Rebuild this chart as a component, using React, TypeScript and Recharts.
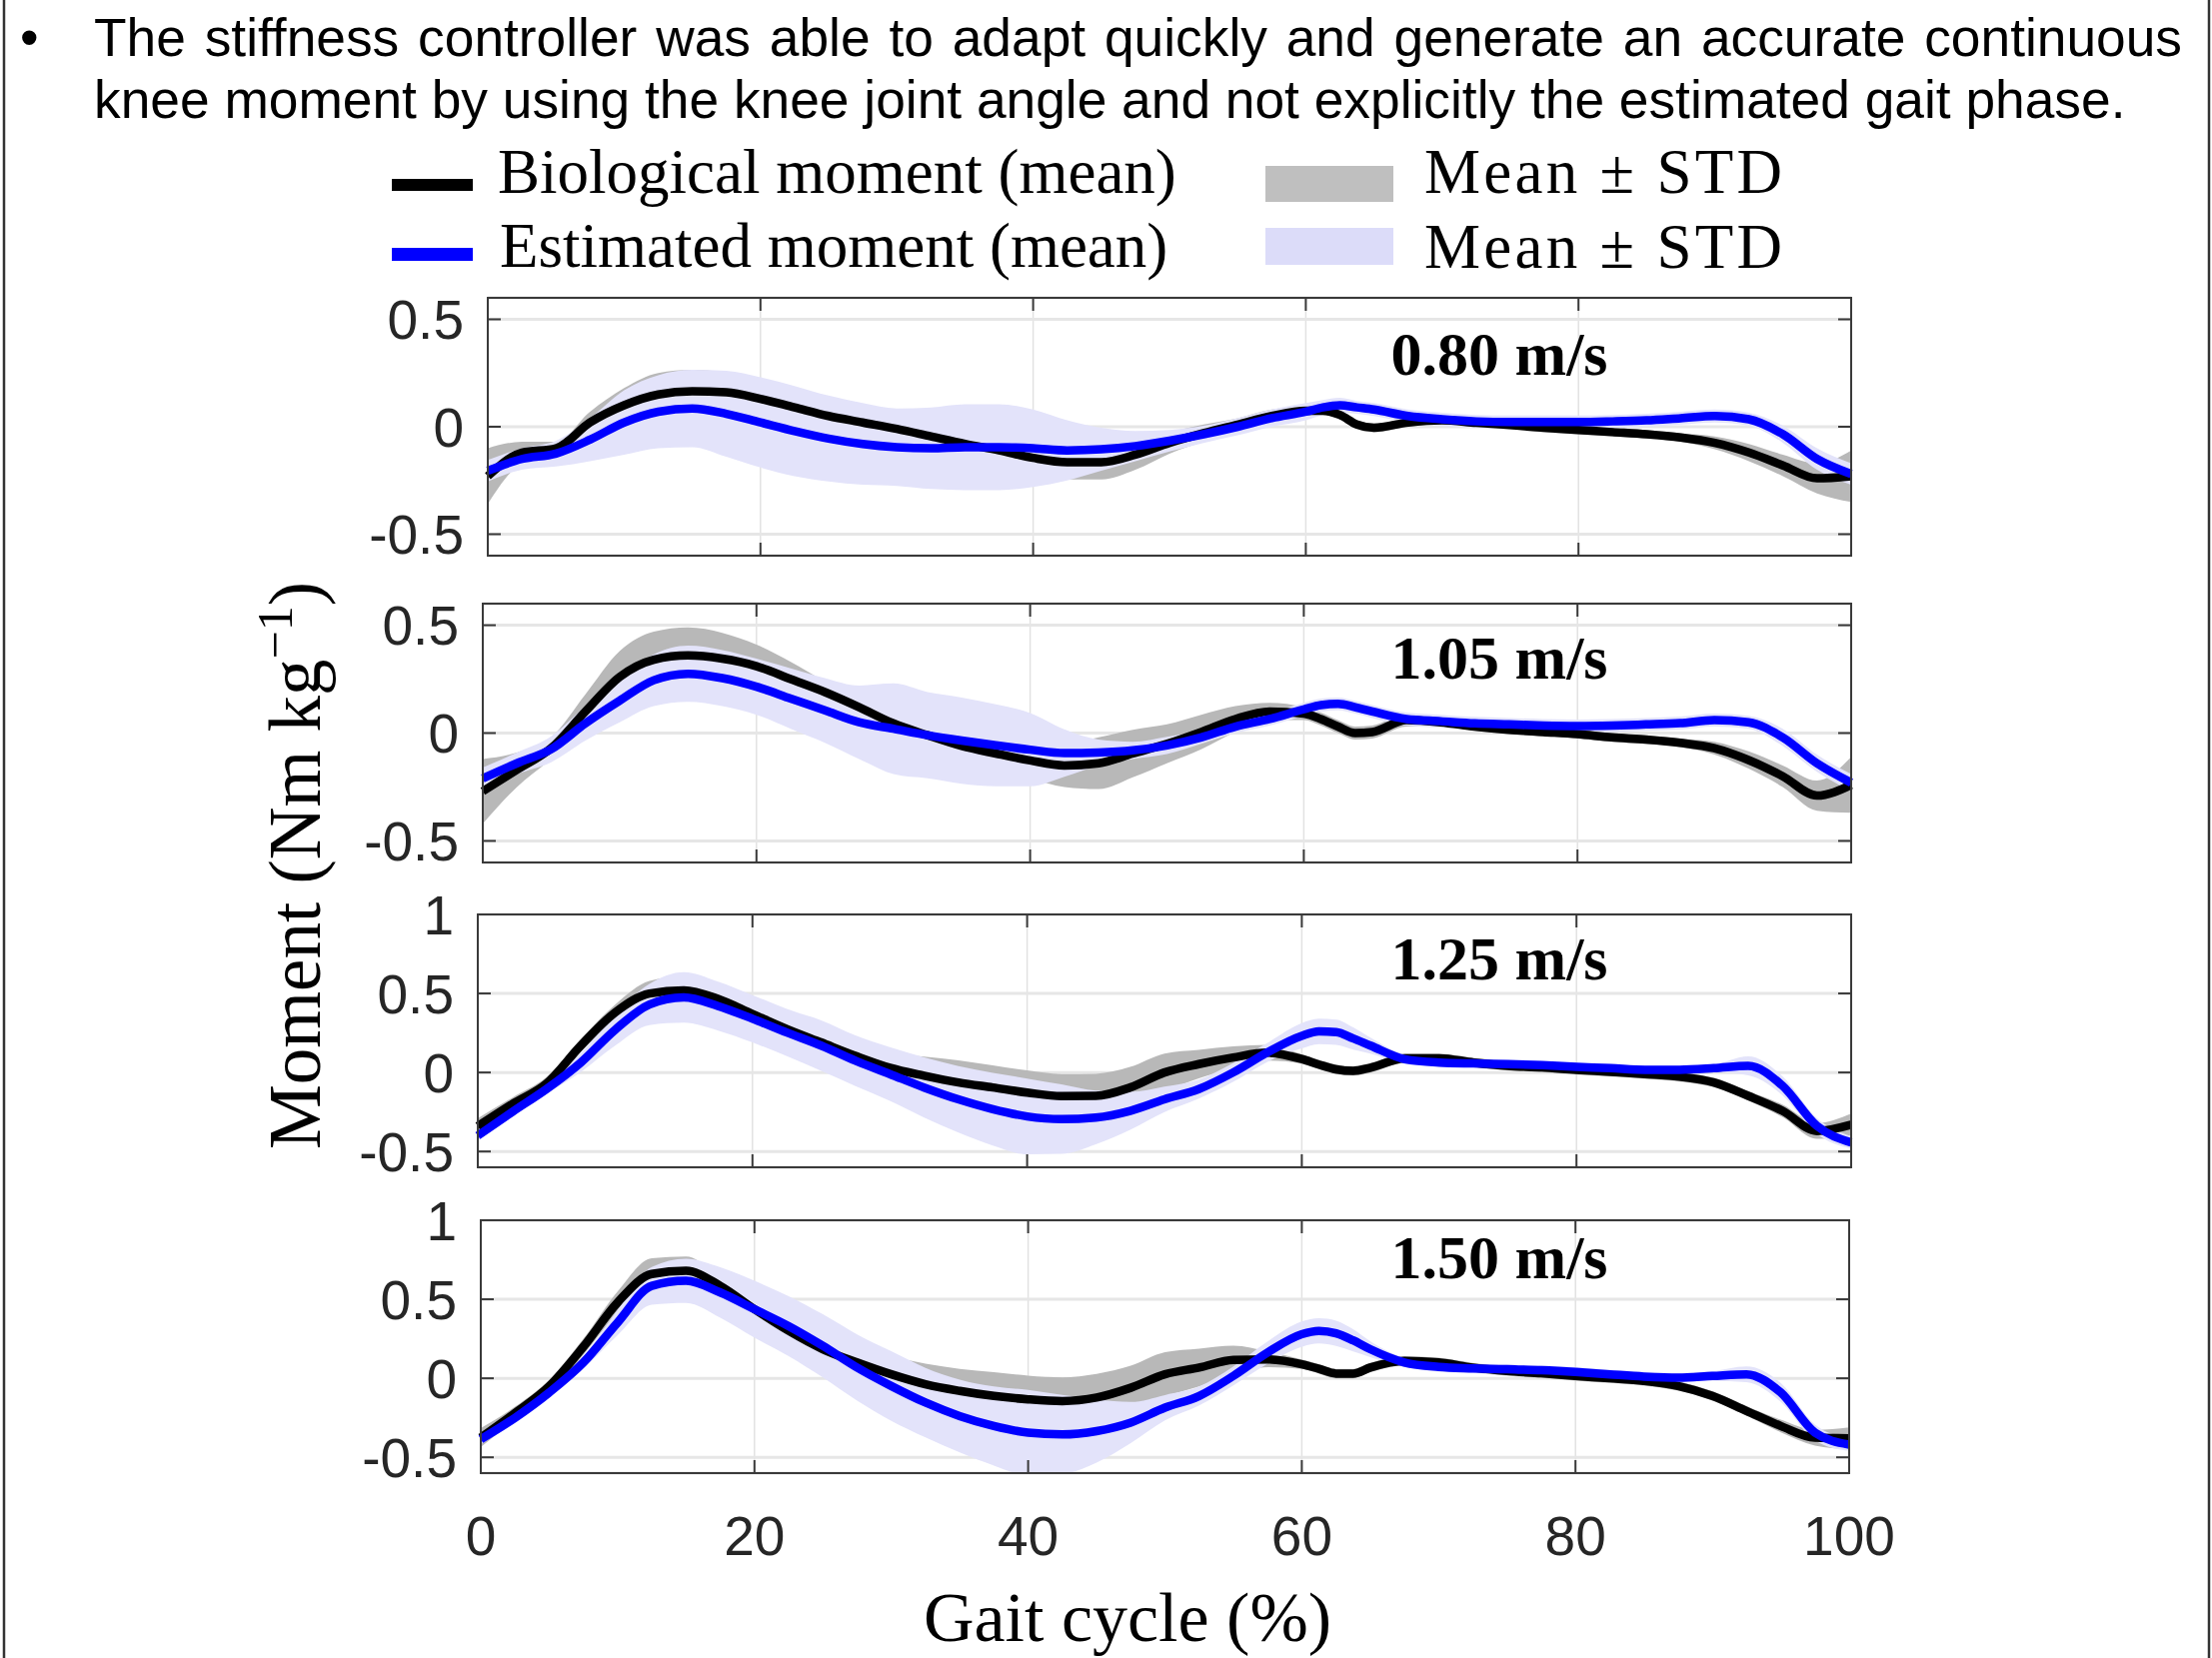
import React from "react";
import { ComposedChart, Area, Line, XAxis, YAxis, CartesianGrid } from "recharts";

// gait cycle samples (%)
const gaitPct = [
  0, 2.5, 5, 7.5, 10, 12.5, 15, 17.5, 20, 22.5,
  25, 27.5, 30, 32.5, 35, 37.5, 40, 42.5, 45, 47.5,
  50, 52.5, 55, 57.5, 60, 61.25, 62.5, 63.75, 65, 67.5,
  70, 72.5, 75, 77.5, 80, 82.5, 85, 87.5, 90, 92.5,
  95, 97.5, 100,
];

// 0.80 m/s
const bio080 = [
  -0.23, -0.12, -0.1, 0.02, 0.1, 0.15, 0.165, 0.16, 0.13, 0.09,
  0.05, 0.02, -0.01, -0.045, -0.08, -0.11, -0.145, -0.165, -0.165, -0.13,
  -0.075, -0.03, 0.01, 0.05, 0.075, 0.075, 0.055, 0.01, -0.005, 0.02,
  0.03, 0.018, 0.008, -0.005, -0.015, -0.025, -0.035, -0.05, -0.075, -0.12,
  -0.18, -0.24, -0.23,
];
const bioSd080 = [
  0.13, 0.05, 0.03, 0.05, 0.08, 0.1, 0.1, 0.09, 0.08, 0.07,
  0.06, 0.05, 0.04, 0.04, 0.05, 0.06, 0.07, 0.08, 0.08, 0.07,
  0.05, 0.04, 0.03, 0.03, 0.02, 0.02, 0.02, 0.02, 0.02, 0.02,
  0.02, 0.02, 0.02, 0.02, 0.02, 0.02, 0.02, 0.02, 0.03, 0.04,
  0.05, 0.07, 0.12,
];
const est080 = [
  -0.205, -0.15, -0.125, -0.06, 0.02, 0.07, 0.085, 0.06, 0.02, -0.02,
  -0.055, -0.08, -0.095, -0.1, -0.095, -0.095, -0.1, -0.11, -0.105, -0.09,
  -0.065, -0.035, 0.0, 0.04, 0.07, 0.09, 0.1, 0.09, 0.08, 0.05,
  0.035, 0.025, 0.022, 0.022, 0.022, 0.025, 0.03, 0.04, 0.05, 0.035,
  -0.035, -0.15, -0.22,
];
const estSd080 = [
  0.05, 0.05, 0.06, 0.1, 0.15, 0.17, 0.18, 0.2, 0.21, 0.21,
  0.2, 0.19, 0.18, 0.19, 0.2, 0.2, 0.18, 0.14, 0.1, 0.07,
  0.05, 0.04, 0.04, 0.04, 0.04, 0.035, 0.035, 0.03, 0.03, 0.03,
  0.03, 0.03, 0.03, 0.03, 0.03, 0.03, 0.03, 0.03, 0.03, 0.03,
  0.04, 0.05, 0.05,
];

// 1.05 m/s
const bio105 = [
  -0.27, -0.17, -0.07, 0.1, 0.26, 0.34, 0.36, 0.345, 0.31, 0.25,
  0.19, 0.12, 0.045, -0.01, -0.06, -0.095, -0.127, -0.15, -0.14, -0.095,
  -0.05, 0.005, 0.065, 0.1, 0.09, 0.065, 0.03, 0.0, 0.005, 0.06,
  0.05, 0.03, 0.015, 0.005, -0.005, -0.02, -0.03, -0.045, -0.07, -0.125,
  -0.2, -0.29, -0.24,
];
const bioSd105 = [
  0.15, 0.08, 0.05, 0.08, 0.12, 0.13, 0.13, 0.12, 0.1, 0.08,
  0.05, 0.04, 0.04, 0.04, 0.04, 0.06, 0.08, 0.1, 0.12, 0.11,
  0.09, 0.08, 0.06, 0.04, 0.03, 0.03, 0.03, 0.03, 0.03, 0.03,
  0.02, 0.02, 0.02, 0.02, 0.02, 0.02, 0.02, 0.02, 0.03, 0.04,
  0.05, 0.07, 0.13,
];
const est105 = [
  -0.21, -0.14, -0.075, 0.045, 0.15, 0.245, 0.275, 0.255, 0.215, 0.16,
  0.105, 0.05, 0.02, -0.01, -0.035, -0.057, -0.077, -0.093, -0.09, -0.08,
  -0.057, -0.02, 0.03, 0.065, 0.11, 0.13, 0.135, 0.12, 0.1, 0.065,
  0.055, 0.045, 0.04, 0.035, 0.033, 0.035, 0.04, 0.046, 0.06, 0.05,
  -0.02, -0.14, -0.23,
];
const estSd105 = [
  0.05, 0.05, 0.06, 0.08, 0.1, 0.12, 0.13, 0.13, 0.13, 0.14,
  0.15, 0.17, 0.21, 0.2, 0.2, 0.19, 0.17, 0.11, 0.06, 0.04,
  0.04, 0.03, 0.03, 0.03, 0.03, 0.03, 0.03, 0.03, 0.03, 0.03,
  0.03, 0.03, 0.03, 0.03, 0.03, 0.03, 0.03, 0.03, 0.03, 0.03,
  0.04, 0.04, 0.04,
];

// 1.25 m/s
const bio125 = [
  -0.34, -0.2, -0.07, 0.17, 0.38, 0.5, 0.52, 0.465, 0.37, 0.275,
  0.19, 0.105, 0.03, -0.02, -0.063, -0.095, -0.127, -0.15, -0.148, -0.095,
  0.0, 0.053, 0.095, 0.125, 0.085, 0.05, 0.02, 0.01, 0.03, 0.09,
  0.09, 0.063, 0.042, 0.032, 0.017, 0.004, -0.01, -0.027, -0.063, -0.148,
  -0.243, -0.37, -0.33,
];
const bioSd125 = [
  0.05, 0.04, 0.04, 0.04, 0.05, 0.08, 0.09, 0.06, 0.04, 0.03,
  0.03, 0.04, 0.09, 0.12, 0.14, 0.14, 0.14, 0.14, 0.14, 0.13,
  0.12, 0.09, 0.07, 0.05, 0.03, 0.03, 0.03, 0.03, 0.03, 0.03,
  0.03, 0.03, 0.03, 0.03, 0.03, 0.03, 0.03, 0.03, 0.03, 0.03,
  0.04, 0.05, 0.07,
];
const est125 = [
  -0.4, -0.25, -0.105, 0.063, 0.27, 0.43, 0.475, 0.42, 0.34, 0.253,
  0.17, 0.074, -0.01, -0.095, -0.17, -0.232, -0.278, -0.295, -0.285, -0.243,
  -0.17, -0.105, 0.0, 0.127, 0.232, 0.26, 0.255, 0.215, 0.17, 0.084,
  0.063, 0.057, 0.053, 0.046, 0.036, 0.027, 0.017, 0.017, 0.027, 0.042,
  -0.084, -0.338, -0.443,
];
const estSd125 = [
  0.03, 0.03, 0.03, 0.06, 0.1, 0.13, 0.16, 0.155, 0.15, 0.15,
  0.16, 0.16, 0.17, 0.19, 0.21, 0.23, 0.24, 0.22, 0.17, 0.12,
  0.08, 0.06, 0.06, 0.06, 0.08, 0.08, 0.08, 0.07, 0.05, 0.03,
  0.025, 0.025, 0.025, 0.025, 0.025, 0.025, 0.025, 0.025, 0.025, 0.06,
  0.06, 0.05, 0.04,
];

// 1.50 m/s
const bio150 = [
  -0.376, -0.22, -0.05, 0.2, 0.48, 0.66, 0.68, 0.585, 0.437, 0.3,
  0.184, 0.1, 0.025, -0.038, -0.08, -0.112, -0.133, -0.144, -0.122, -0.06,
  0.025, 0.068, 0.116, 0.12, 0.089, 0.06, 0.03, 0.03, 0.068, 0.11,
  0.1, 0.068, 0.046, 0.032, 0.015, 0.0, -0.017, -0.049, -0.112, -0.207,
  -0.302, -0.376, -0.38,
];
const bioSd150 = [
  0.06, 0.04, 0.04, 0.05, 0.07, 0.1, 0.09, 0.05, 0.03, 0.03,
  0.03, 0.05, 0.11, 0.13, 0.14, 0.15, 0.15, 0.15, 0.15, 0.14,
  0.14, 0.12, 0.09, 0.05, 0.03, 0.03, 0.03, 0.03, 0.03, 0.03,
  0.03, 0.03, 0.03, 0.03, 0.03, 0.03, 0.03, 0.03, 0.03, 0.03,
  0.04, 0.05, 0.07,
];
const est150 = [
  -0.386, -0.25, -0.09, 0.1, 0.353, 0.585, 0.617, 0.543, 0.437, 0.33,
  0.205, 0.068, -0.049, -0.154, -0.239, -0.302, -0.344, -0.355, -0.334, -0.28,
  -0.186, -0.112, 0.015, 0.163, 0.279, 0.3, 0.285, 0.24, 0.184, 0.1,
  0.072, 0.063, 0.057, 0.051, 0.04, 0.025, 0.011, 0.004, 0.015, 0.025,
  -0.09, -0.344, -0.42,
];
const estSd150 = [
  0.03, 0.03, 0.03, 0.04, 0.08, 0.12, 0.14, 0.16, 0.18, 0.19,
  0.2, 0.21, 0.22, 0.22, 0.23, 0.25, 0.27, 0.25, 0.2, 0.13,
  0.08, 0.06, 0.06, 0.07, 0.08, 0.08, 0.08, 0.07, 0.05, 0.03,
  0.03, 0.03, 0.03, 0.03, 0.03, 0.03, 0.03, 0.03, 0.03, 0.05,
  0.06, 0.05, 0.04,
];

const xTicks = [0, 20, 40, 60, 80, 100];
const yTicksSmall = [-0.5, 0, 0.5];
const yTicksLarge = [-0.5, 0, 0.5, 1];
const speedLabels = ["0.80 m/s", "1.05 m/s", "1.25 m/s", "1.50 m/s"];

const buildRows = (bio: number[], bioSd: number[], est: number[], estSd: number[]) =>
  gaitPct.map((x, i) => ({
    x,
    bio: bio[i],
    est: est[i],
    bioBand: [bio[i] - bioSd[i], bio[i] + bioSd[i]],
    estBand: [est[i] - estSd[i], est[i] + estSd[i]],
  }));

const panels = [
  { label: speedLabels[0], rows: buildRows(bio080, bioSd080, est080, estSd080), left: 488, right: 1852, top: 298, bottom: 556, domain: [-0.6, 0.6], ticks: yTicksSmall, labelY: 375 },
  { label: speedLabels[1], rows: buildRows(bio105, bioSd105, est105, estSd105), left: 483, right: 1852, top: 604, bottom: 863, domain: [-0.6, 0.6], ticks: yTicksSmall, labelY: 679 },
  { label: speedLabels[2], rows: buildRows(bio125, bioSd125, est125, estSd125), left: 478, right: 1852, top: 915, bottom: 1168, domain: [-0.6, 1], ticks: yTicksLarge, labelY: 980 },
  { label: speedLabels[3], rows: buildRows(bio150, bioSd150, est150, estSd150), left: 481, right: 1850, top: 1221, bottom: 1474, domain: [-0.6, 1], ticks: yTicksLarge, labelY: 1279 },
];

const SANS = '"Liberation Sans", Arial, sans-serif';
const SERIF = '"Liberation Serif", "Times New Roman", serif';
const AXIS_W = 200;
const PAD_T = 50;
const PAD_R = 90;
const PAD_B = 20;
const FRAME = "#3a3a3a";
const TEXT = "#262626";

function Panel({ p, showX }: { p: any; showX: boolean }) {
  const plotW = p.right - p.left;
  const plotH = p.bottom - p.top;
  const xh = showX ? 110 : 1;
  const pl = AXIS_W;
  const pr = AXIS_W + plotW;
  const pt = PAD_T;
  const pb = PAD_T + plotH;

  const xTick = ({ x, payload }: any) => (
    <g>
      <line x1={x} x2={x} y1={pb} y2={pb - 13} stroke={FRAME} strokeWidth={2} />
      <line x1={x} x2={x} y1={pt} y2={pt + 13} stroke={FRAME} strokeWidth={2} />
      {showX && (
        <text x={x} y={pb + 82} textAnchor="middle" fontSize={55} fontFamily={SANS} fill={TEXT}>
          {payload.value}
        </text>
      )}
    </g>
  );

  const yTick = ({ y, payload }: any) => (
    <g>
      <line x1={pl} x2={pl + 13} y1={y} y2={y} stroke={FRAME} strokeWidth={2} />
      <line x1={pr - 13} x2={pr} y1={y} y2={y} stroke={FRAME} strokeWidth={2} />
      <text x={pl - 24} y={y} dy="0.36em" textAnchor="end" fontSize={55} fontFamily={SANS} fill={TEXT}>
        {String(payload.value)}
      </text>
    </g>
  );

  return (
    <div style={{ position: "absolute", left: p.left - AXIS_W, top: p.top - PAD_T }}>
      <ComposedChart
        width={AXIS_W + plotW + PAD_R}
        height={PAD_T + plotH + xh + PAD_B}
        data={p.rows}
        margin={{ top: PAD_T, right: PAD_R, bottom: PAD_B, left: 0 }}
      >
        <CartesianGrid horizontal={false} stroke="#e2e2e2" strokeWidth={1.5} />
        <CartesianGrid vertical={false} stroke="#e6e6e6" strokeWidth={3} />
        <XAxis
          dataKey="x"
          type="number"
          domain={[0, 100]}
          ticks={xTicks}
          interval={0}
          height={xh}
          tick={xTick}
          tickLine={false}
          axisLine={false}
        />
        <YAxis
          type="number"
          domain={p.domain}
          ticks={p.ticks}
          interval={0}
          allowDataOverflow
          width={AXIS_W}
          tick={yTick}
          tickLine={false}
          axisLine={false}
        />
        <Area dataKey="bioBand" type="monotone" stroke="none" fill="#b8b8b8" fillOpacity={1} dot={false} activeDot={false} isAnimationActive={false} />
        <Area dataKey="estBand" type="monotone" stroke="none" fill="#e3e3fa" fillOpacity={1} dot={false} activeDot={false} isAnimationActive={false} />
        <Line dataKey="bio" type="monotone" stroke="#000000" strokeWidth={8.5} dot={false} activeDot={false} isAnimationActive={false} />
        <Line dataKey="est" type="monotone" stroke="#0000ff" strokeWidth={8.5} dot={false} activeDot={false} isAnimationActive={false} />
      </ComposedChart>
    </div>
  );
}

export default function App() {
  return (
    <div style={{ position: "absolute", left: 0, top: 0, width: 2213, height: 1659, background: "#fff", overflow: "hidden" }}>
      <div style={{ position: "absolute", left: 20, top: 8, fontFamily: SANS, fontSize: 53, lineHeight: "60px", color: "#000" }}>•</div>
      <div
        style={{
          position: "absolute",
          left: 94,
          top: 8,
          width: 2089,
          fontFamily: SANS,
          fontSize: 53.3,
          lineHeight: "60px",
          color: "#000",
          textAlign: "justify",
          textAlignLast: "justify",
          whiteSpace: "nowrap",
        }}
      >
        The stiffness controller was able to adapt quickly and generate an accurate continuous
      </div>
      <div style={{ position: "absolute", left: 94, top: 70, fontFamily: SANS, fontSize: 53.3, lineHeight: "60px", color: "#000", whiteSpace: "nowrap" }}>
        knee moment by using the knee joint angle and not explicitly the estimated gait phase.
      </div>

      {panels.map((p, i) => (
        <Panel key={p.label} p={p} showX={i === panels.length - 1} />
      ))}

      <svg width={2213} height={1659} style={{ position: "absolute", left: 0, top: 0, pointerEvents: "none" }}>
        <line x1={4} x2={4} y1={0} y2={1659} stroke="#333" strokeWidth={2.5} />
        <line x1={2210} x2={2210} y1={0} y2={1659} stroke="#333" strokeWidth={2.5} />

        {panels.map((p) => (
          <g key={p.label}>
            <rect x={p.left} y={p.top} width={p.right - p.left} height={p.bottom - p.top} fill="none" stroke={FRAME} strokeWidth={2} />
            <text x={1500} y={p.labelY} textAnchor="middle" fontFamily={SERIF} fontWeight="bold" fontSize={62} fill="#000">
              {p.label}
            </text>
          </g>
        ))}

        <rect x={392} y={179} width={81} height={12} fill="#000" />
        <text x={498} y={193} fontFamily={SERIF} fontSize={63} fill="#000">Biological moment (mean)</text>
        <rect x={392} y={248} width={81} height={13} fill="#0000ff" />
        <text x={500} y={267} fontFamily={SERIF} fontSize={63} fill="#000">Estimated moment (mean)</text>
        <rect x={1266} y={166} width={128} height={36} fill="#bfbfbf" />
        <text x={1425} y={193} fontFamily={SERIF} fontSize={63} fill="#000" textLength={358}>Mean ± STD</text>
        <rect x={1266} y={228} width={128} height={37} fill="#dcdcf9" />
        <text x={1425} y={268} fontFamily={SERIF} fontSize={63} fill="#000" textLength={358}>Mean ± STD</text>

        <text transform="translate(320, 866) rotate(-90)" textAnchor="middle" fontFamily={SERIF} fontSize={73} fill="#000">
          Moment (Nm kg<tspan dy={-28} fontSize={50}>−1</tspan><tspan dy={28}>)</tspan>
        </text>
        <text x={1128} y={1642} textAnchor="middle" fontFamily={SERIF} fontSize={70} fill="#000">Gait cycle (%)</text>
      </svg>
    </div>
  );
}
